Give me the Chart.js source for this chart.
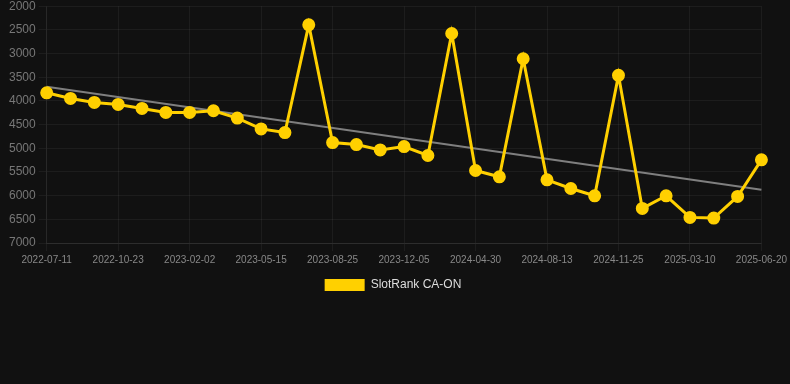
<!DOCTYPE html>
<html>
<head>
<meta charset="utf-8">
<script src="https://cdn.jsdelivr.net/npm/chart.js@4"></script>
<style>
  html, body { margin: 0; padding: 0; background: #111111; overflow: hidden; }
  #wrap { width: 790px; height: 305px; position: relative; margin-top: -4px; }
</style>
</head>
<body>
<div id="wrap"><canvas id="c"></canvas></div>
<script>
const categories = [
  "2022-07-11","2022-08-14","2022-09-18","2022-10-23","2022-11-26","2022-12-30",
  "2023-02-02","2023-03-08","2023-04-11","2023-05-15","2023-06-18","2023-07-22",
  "2023-08-25","2023-09-28","2023-11-01","2023-12-05","2024-01-22","2024-03-14",
  "2024-04-30","2024-06-04","2024-07-09","2024-08-13","2024-09-16","2024-10-21",
  "2024-11-25","2024-12-29","2025-02-04","2025-03-10","2025-04-13","2025-05-17",
  "2025-06-20"
];
const slotRankValues = [
  3829, 3947, 4032, 4074, 4159, 4243, 4243, 4208, 4363, 4591,
  4669, 2393, 4880, 4922, 5034, 4964, 5153, 2576, 5469, 5602,
  3110, 5666, 5849, 6003, 3460, 6270, 6003, 6459, 6473, 6017,
  5244
];
const trendStart = 3700;
const trendEnd = 5876;
const yTicks = { min: 2000, max: 7000, step: 500 };

const trendValues = categories.map((_, i) =>
  i === 0 ? trendStart : (i === categories.length - 1 ? trendEnd : null));

new Chart(document.getElementById('c'), {
  type: 'line',
  data: {
    labels: categories,
    datasets: [
      {
        label: 'SlotRank CA-ON',
        data: slotRankValues,
        borderColor: '#FFD000',
        backgroundColor: '#FFD000',
        borderWidth: 3,
        pointRadius: 5,
        pointBackgroundColor: '#FFD000',
        pointBorderColor: '#FFD000',
        tension: 0,
        order: 1
      },
      {
        label: 'trend',
        data: trendValues,
        spanGaps: true,
        borderColor: '#7f7f7f',
        borderWidth: 2,
        pointRadius: 0,
        order: 2
      }
    ]
  },
  options: {
    responsive: true,
    maintainAspectRatio: false,
    animation: false,
    layout: { padding: { left: 6, right: 0, top: 0, bottom: 0 } },
    plugins: {
      legend: {
        position: 'bottom',
        labels: {
          color: '#dddddd',
          font: { family: 'Liberation Sans, Arial, sans-serif', size: 12 },
          boxWidth: 40,
          boxHeight: 12,
          generateLabels: (chart) => {
            const items = Chart.defaults.plugins.legend.labels.generateLabels(chart)
              .filter(it => it.text !== 'trend');
            items.forEach(it => { it.text = it.text + '\u00a0\u00a0\u00a0'; it.lineWidth = 0; });
            return items;
          }
        }
      },
      tooltip: { enabled: false }
    },
    scales: {
      x: {
        offset: false,
        grid: { color: 'rgba(255,255,255,0.05)', tickLength: 8 },
        border: { color: 'rgba(255,255,255,0.07)' },
        ticks: {
          color: '#888888',
          font: { family: 'Liberation Sans, Arial, sans-serif', size: 10 },
          maxRotation: 0,
          autoSkip: false,
          callback: function(v, i) { return i % 3 === 0 ? this.getLabelForValue(v) : null; }
        }
      },
      y: {
        reverse: true,
        min: yTicks.min,
        max: yTicks.max,
        grid: { color: 'rgba(255,255,255,0.05)', tickLength: 8 },
        border: { color: 'rgba(255,255,255,0.05)' },
        ticks: {
          stepSize: yTicks.step,
          color: '#777777',
          font: { family: 'Liberation Sans, Arial, sans-serif', size: 12 },
          callback: (v) => String(v)
        }
      }
    }
  }
});
</script>
</body>
</html>
